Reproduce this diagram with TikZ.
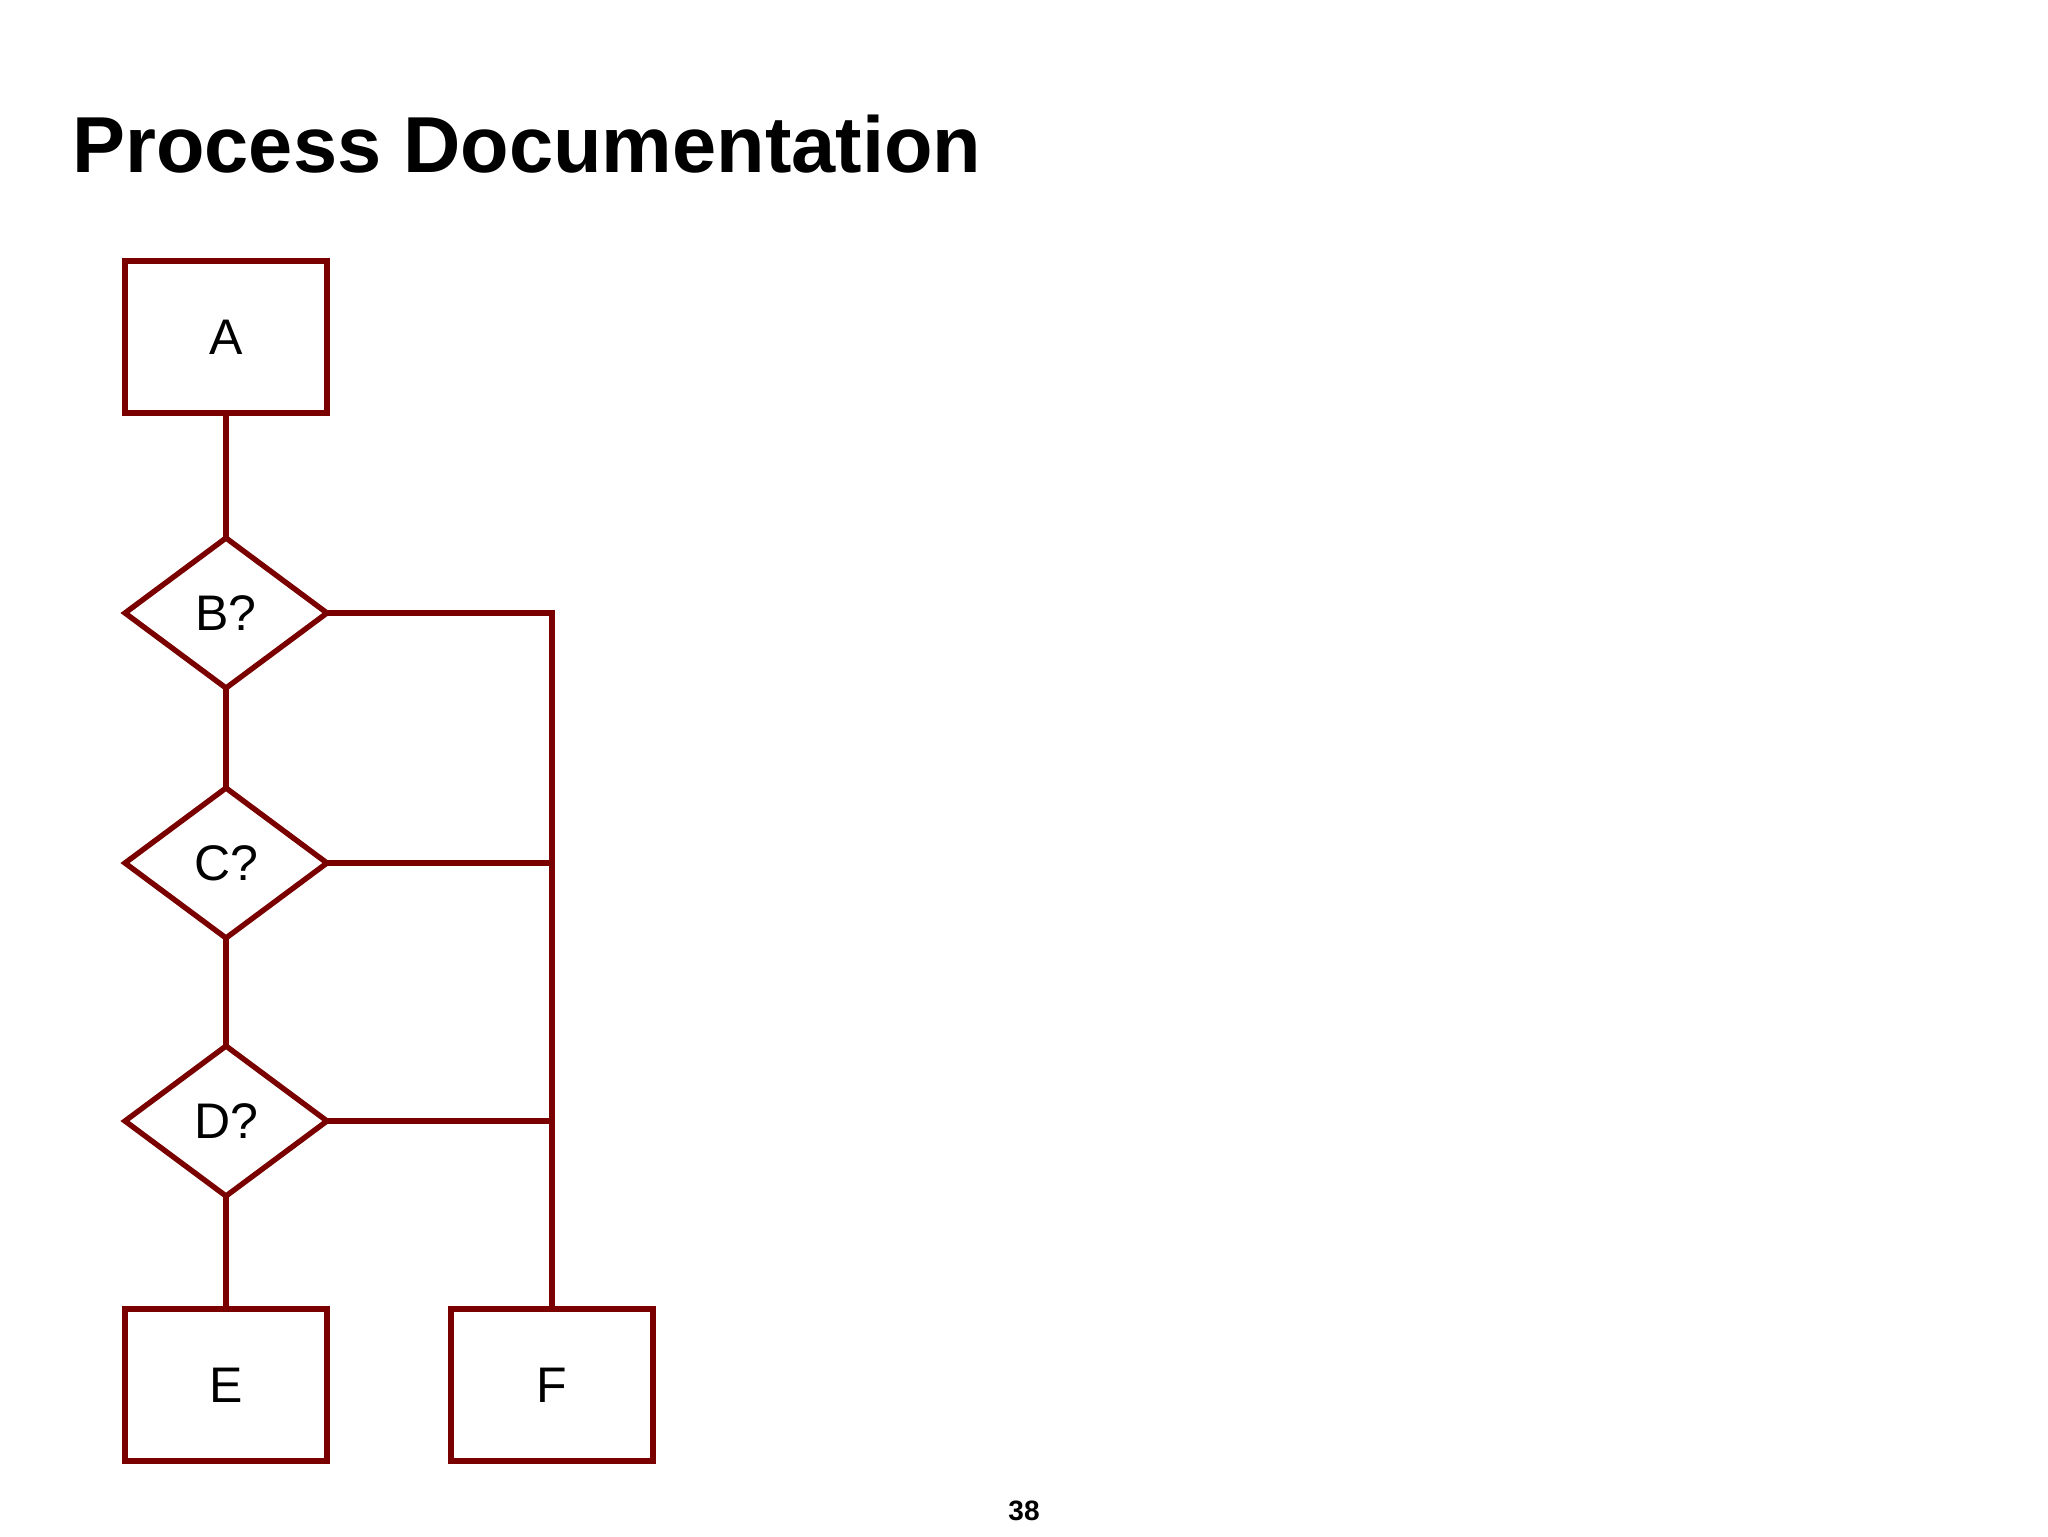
\documentclass[tikz,border=0pt]{standalone}
\usepackage{fontspec}
\setmainfont{Liberation Sans}
\usetikzlibrary{shapes.geometric}
\definecolor{flowred}{HTML}{7A0000}
\begin{document}
\begin{tikzpicture}[x=0.5pt,y=-0.5pt,
  boxnode/.style={draw=flowred,line width=2.7pt,rectangle,minimum width=101pt,minimum height=76pt,inner sep=0pt,outer sep=0pt,font=\fontsize{25pt}{30pt}\selectfont},
  decnode/.style={draw=flowred,line width=2.7pt,diamond,minimum width=101pt,minimum height=75pt,inner sep=0pt,outer sep=0pt,font=\fontsize{25pt}{30pt}\selectfont},
  link/.style={draw=flowred,line width=2.7pt}]
\useasboundingbox (0,0) rectangle (2048,1536);
\node[anchor=base west,font=\bfseries\fontsize{39.7pt}{44pt}\selectfont,inner sep=0pt] (title) at (72,172) {Process Documentation};
\node[boxnode] (A) at (226,337) {A};
\node[decnode] (B) at (226,613) {B?};
\node[decnode] (C) at (226,863) {C?};
\node[decnode] (D) at (226,1121) {D?};
\node[boxnode] (E) at (226,1385) {E};
\node[boxnode] (F) at (552,1385) {F};
\coordinate (jb) at (552,613);
\coordinate (jc) at (552,863);
\coordinate (jd) at (552,1121);
\draw[link] (A.south) -- (B.north);
\draw[link] (B.south) -- (C.north);
\draw[link] (C.south) -- (D.north);
\draw[link] (D.south) -- (E.north);
\draw[link] (B.east) -- (jb) -- (F.north);
\draw[link] (C.east) -- (jc);
\draw[link] (D.east) -- (jd);
\node[font=\bfseries\fontsize{14pt}{16pt}\selectfont,inner sep=0pt] (page) at (1024,1511) {38};
\end{tikzpicture}
\end{document}
